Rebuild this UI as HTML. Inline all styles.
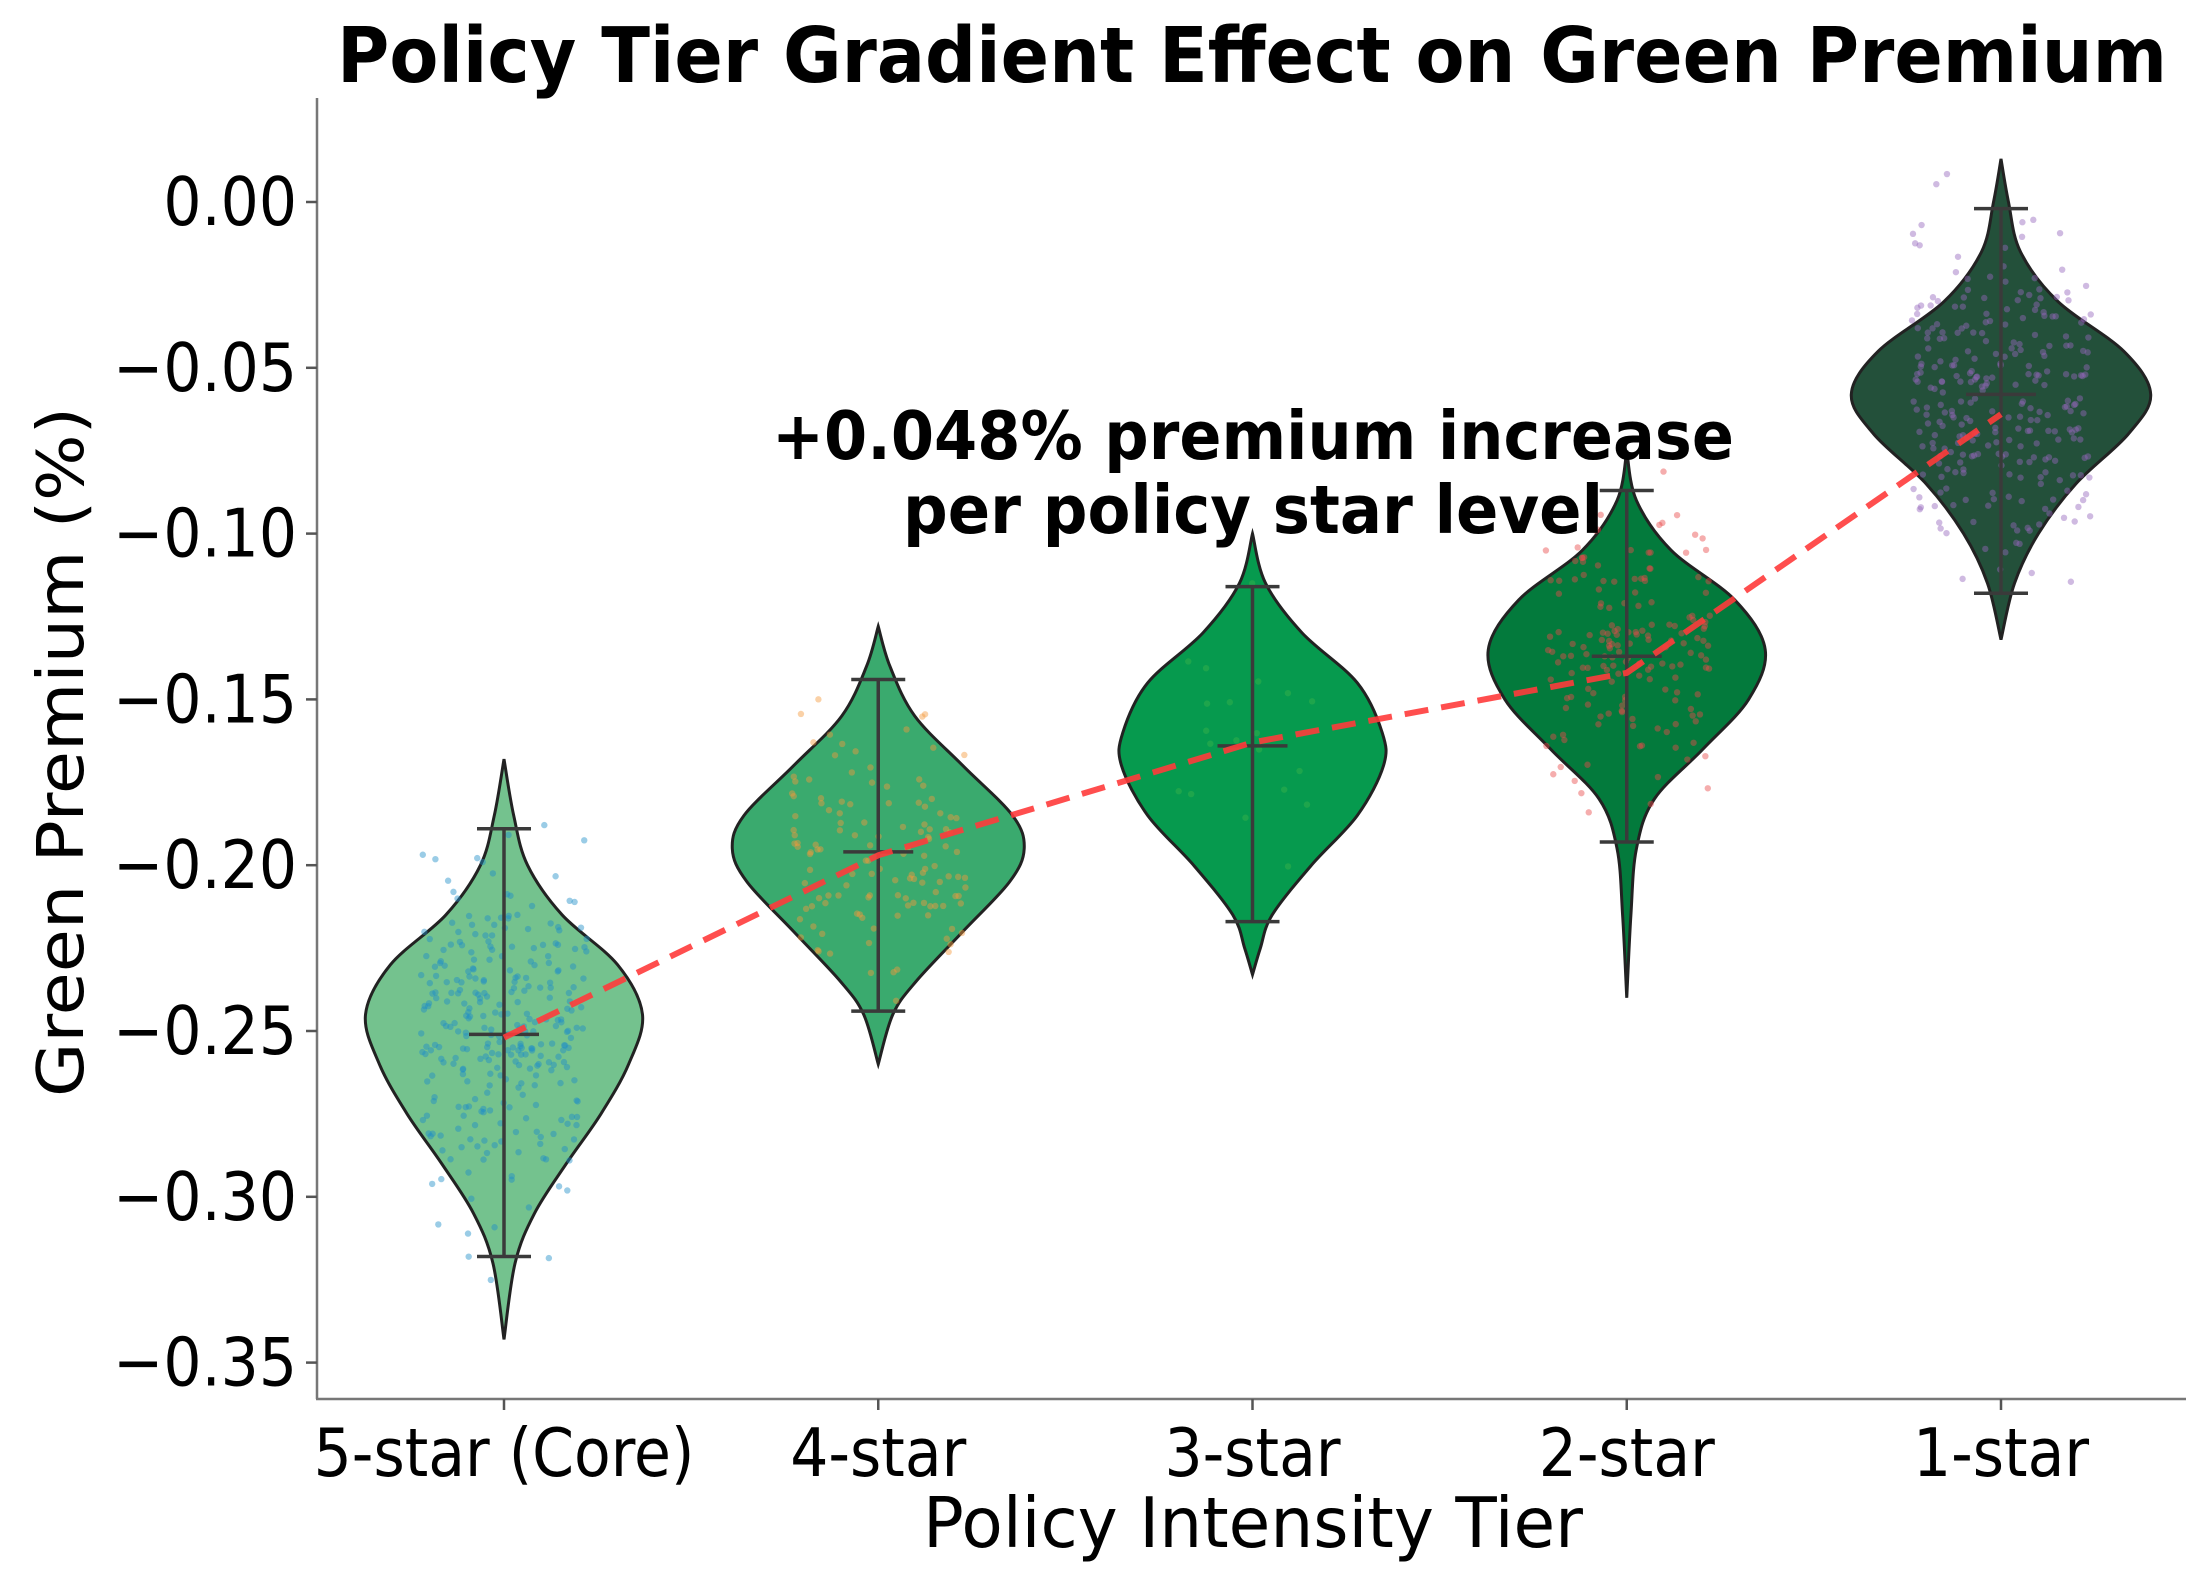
<!DOCTYPE html>
<html><head><meta charset="utf-8"><style>
html,body{margin:0;padding:0;background:#fff;}
svg{display:block;font-family:"DejaVu Sans","Liberation Sans",sans-serif;}
</style></head><body>
<svg id="chart" width="2208" height="1577" viewBox="0 0 2208 1577" xmlns="http://www.w3.org/2000/svg">
<text transform="translate(1252,82) scale(1,1.1)" text-anchor="middle" font-size="70" font-weight="bold" textLength="1830" lengthAdjust="spacingAndGlyphs">Policy Tier Gradient Effect on Green Premium</text>
<g id="plot"></g>
<line x1="317" y1="98" x2="317" y2="1399" stroke="#777" stroke-width="2.5"/>
<line x1="316" y1="1399" x2="2186" y2="1399" stroke="#777" stroke-width="2.5"/>
<g id="yticks"></g>
<g id="xticks"></g>
<text transform="translate(83,752) rotate(-90)" text-anchor="middle" font-size="64" textLength="690" lengthAdjust="spacingAndGlyphs">Green Premium (%)</text>
<text transform="translate(1253,1547) scale(1,1.12)" text-anchor="middle" font-size="62" textLength="660" lengthAdjust="spacingAndGlyphs">Policy Intensity Tier</text>
<g font-size="62" font-weight="bold" text-anchor="middle">
<text transform="translate(1253,459) scale(1,1.08)" textLength="962" lengthAdjust="spacingAndGlyphs">+0.048% premium increase</text>
<text transform="translate(1253,533) scale(1,1.08)" textLength="700" lengthAdjust="spacingAndGlyphs">per policy star level</text>
</g>
</svg>
<script>
const categories=["5-star (Core)","4-star","3-star","2-star","1-star"];
const fills=["#74c28e","#3aaa6e","#069a4e","#037a3c","#23503a"];
const dotColors=["#1f8fc8","#f59a3c","#3cb44b","#e84a4a","#9467bd"];
const medians=[-0.251,-0.196,-0.164,-0.137,-0.058];
const mins=[-0.318,-0.244,-0.217,-0.193,-0.118];
const maxs=[-0.189,-0.144,-0.116,-0.087,-0.002];
const means=[-0.252,-0.197,-0.163,-0.142,-0.064];
const yTicks=[0,-0.05,-0.10,-0.15,-0.20,-0.25,-0.30,-0.35];
const yTickLabels=["0.00","\u22120.05","\u22120.10","\u22120.15","\u22120.20","\u22120.25","\u22120.30","\u22120.35"];
const profV0=[-0.168,-0.185,-0.2,-0.215,-0.23,-0.245,-0.26,-0.275,-0.29,-0.305,-0.32,-0.343];
const profW0=[0,0.07,0.17,0.42,0.82,1.0,0.9,0.7,0.45,0.22,0.08,0];
const profV1=[-0.128,-0.14,-0.155,-0.17,-0.185,-0.195,-0.205,-0.22,-0.235,-0.245,-0.26];
const profW1=[0,0.08,0.25,0.58,0.92,1.0,0.9,0.58,0.26,0.1,0];
const profV2=[-0.1,-0.115,-0.13,-0.145,-0.16,-0.17,-0.185,-0.2,-0.215,-0.225,-0.233];
const profW2=[0,0.1,0.38,0.8,0.99,1.0,0.8,0.45,0.15,0.06,0];
const profV3=[-0.075,-0.09,-0.105,-0.12,-0.135,-0.15,-0.165,-0.18,-0.195,-0.215,-0.24];
const profW3=[0,0.07,0.32,0.78,1.0,0.88,0.55,0.2,0.07,0.03,0];
const profV4=[0.013,0,-0.015,-0.03,-0.045,-0.058,-0.07,-0.085,-0.1,-0.115,-0.132];
const profW4=[0,0.05,0.13,0.38,0.82,1.0,0.85,0.5,0.25,0.09,0];
const profVs=[profV0,profV1,profV2,profV3,profV4];
const profWs=[profW0,profW1,profW2,profW3,profW4];
const maxHalf=[0.37,0.39,0.35,0.37,0.40];
const pointCounts=[300,130,20,170,280];
const spreads=[0.034,0.026,0.03,0.03,0.03];

const NS="http://www.w3.org/2000/svg";
const X0=504,STEP=374.25;
const xs=i=>X0+i*STEP;
const ys=v=>202+(-v)/0.05*165.8;
function mk(tag,attrs,parent){const e=document.createElementNS(NS,tag);for(const k in attrs)e.setAttribute(k,attrs[k]);parent.appendChild(e);return e;}
const plot=document.getElementById('plot');
const yt=document.getElementById('yticks');
yTicks.forEach((v,i)=>{
  const l=mk('line',{x1:306,x2:317,y1:ys(v),y2:ys(v),stroke:'#555','stroke-width':2.5},yt);
  
  
  const t=mk('text',{transform:'translate(297,'+(ys(v)+23)+') scale(1,1.12)','text-anchor':'end','font-size':60},yt);
  t.textContent=yTickLabels[i];
  
  
});
const xt=document.getElementById('xticks');
categories.forEach((c,i)=>{
  const l=mk('line',{x1:xs(i),x2:xs(i),y1:1399,y2:1410,stroke:'#555','stroke-width':2.5},xt);
  
  
  const t=mk('text',{transform:'translate('+xs(i)+',1476) scale(1,1.12)','text-anchor':'middle','font-size':60},xt);
  t.textContent=c;
  
  
});
function smoothPath(pts){
  let d='M'+pts[0][0]+','+pts[0][1];
  for(let i=0;i<pts.length-1;i++){
    const p0=pts[Math.max(0,i-1)],p1=pts[i],p2=pts[i+1],p3=pts[Math.min(pts.length-1,i+2)];
    const c1=[p1[0]+(p2[0]-p0[0])/6,p1[1]+(p2[1]-p0[1])/6];
    const c2=[p2[0]-(p3[0]-p1[0])/6,p2[1]-(p3[1]-p1[1])/6];
    d+=' C'+c1[0]+','+c1[1]+' '+c2[0]+','+c2[1]+' '+p2[0]+','+p2[1];
  }
  return d;
}
let seed=12345;
function rnd(){seed=(seed*1103515245+12345)%2147483648;return seed/2147483648;}
function gauss(){return (rnd()+rnd()+rnd()+rnd()-2)/0.577;}
categories.forEach((c,i)=>{
  const cx=xs(i),H=maxHalf[i]*STEP;
  const V=profVs[i],W=profWs[i];
  const right=V.map((v,k)=>[cx+W[k]*H,ys(v)]);
  const left=V.map((v,k)=>[cx-W[k]*H,ys(v)]).reverse();
  const d=smoothPath(right)+' L'+smoothPath(left).slice(1)+' Z';
  const p=mk('path',{d:d,fill:fills[i],stroke:'#222','stroke-width':3},plot);
  
  
  const g=mk('g',{},plot);
  
  
  for(let k=0;k<pointCounts[i];k++){
    const v=medians[i]+gauss()*spreads[i]*0.75;
    const px=cx+(rnd()-0.5)*2*H*0.6;
    mk('circle',{cx:px,cy:ys(v),r:3.2,fill:dotColors[i],opacity:0.45},g);
  }
  const s=mk('g',{stroke:'#3a3a3a','stroke-width':3.5},plot);
  
  
  mk('line',{x1:cx,x2:cx,y1:ys(maxs[i]),y2:ys(mins[i])},s);
  mk('line',{x1:cx-27,x2:cx+27,y1:ys(maxs[i]),y2:ys(maxs[i])},s);
  mk('line',{x1:cx-27,x2:cx+27,y1:ys(mins[i]),y2:ys(mins[i])},s);
  mk('line',{x1:cx-35,x2:cx+35,y1:ys(medians[i]),y2:ys(medians[i])},s);
});
const pts=means.map((m,i)=>xs(i)+','+ys(m)).join(' ');
const tl=mk('polyline',{points:pts,fill:'none',stroke:'#ff3b3b','stroke-width':6,'stroke-dasharray':'24,13',opacity:0.9},plot);


</script>
</body></html>
